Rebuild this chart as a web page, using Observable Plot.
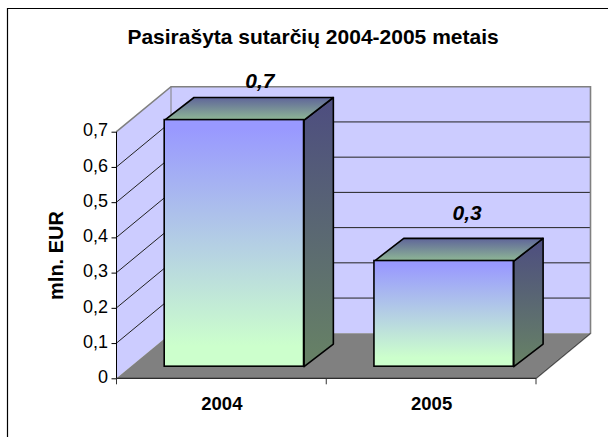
<!DOCTYPE html>
<html lang="lt">
<head>
<meta charset="utf-8">
<script src="https://cdn.jsdelivr.net/npm/d3@7"></script>
<script src="https://cdn.jsdelivr.net/npm/@observablehq/plot@0.6"></script>
<style>
html,body{margin:0;padding:0;background:#fff}
svg{display:block}
[aria-label="y-axis label"]{font-weight:bold;font-size:20px}
[aria-label="x-axis tick label"]{font-weight:bold;font-size:18.5px}
</style>
</head>
<body>
<div id="chart"></div>
<script>
const years = ["2004", "2005"];
const values = [0.7, 0.3];
const yTicks = [0, 0.1, 0.2, 0.3, 0.4, 0.5, 0.6, 0.7];
const valueLabels = ["0,7", "0,3"];
const titleText = "Pasirašyta sutarčių 2004-2005 metais";
const yLabel = "mln. EUR";

const rows = years.map((year, i) => ({year, value: values[i], label: valueLabels[i]}));
const comma = d => String(d).replace(".", ",");

// depth of the 3-D box (floor/wall offset) and of the bars
const WALL = {dx: 54.5, dy: 45};
const FRONT = {dx: 13, dy: 11.6};
const BAR = {dx: 29.3, dy: 22.6};
const INSET = 35.2;

const path = d3.line();
function el(tag, attrs, parent) {
  const n = document.createElementNS("http://www.w3.org/2000/svg", tag);
  for (const k in attrs) n.setAttribute(k, attrs[k]);
  if (parent) parent.appendChild(n);
  return n;
}
function gradient(defs, id, stops) {
  const g = el("linearGradient", {id, x1: 0, y1: 0, x2: 0, y2: 1}, defs);
  stops.forEach(([o, c]) => el("stop", {offset: o, "stop-color": c}, g));
}

const defsMark = () => {
  const d = el("defs", {});
  gradient(d, "front", [[0.04, "#9999ff"], [0.92, "#ccffcc"]]);
  gradient(d, "side", [[0, "#4d4d80"], [0.95, "#668066"]]);
  gradient(d, "top", [[0, "#5f6599"], [1, "#8fb895"]]);
  return d;
};

const frameMark = (i, s, v, dims) => {
  const g = el("g", {"aria-label": "chart frame"});
  el("path", {d: `M7.5 ${dims.height}V8.5H${dims.width}`, fill: "none", stroke: "#000", "stroke-width": 1.2}, g);
  return g;
};

const wallsMark = (i, {x, y}) => {
  const g = el("g", {"aria-label": "walls"});
  const x0 = x(years[0]), x1 = 2 * x(years[1]) - x(years[0]);
  const y0 = y(0), yT = y(yTicks[yTicks.length - 1]);
  const {dx, dy} = WALL;
  el("path", {d: path([[x0, y0], [x0 + dx, y0 - dy], [x0 + dx, yT - dy], [x0, yT]]) + "Z", fill: "#ccccff"}, g);
  el("rect", {x: x0 + dx, y: yT - dy, width: x1 - x0, height: y0 - yT, fill: "#ccccff"}, g);
  el("path", {d: path([[x0, y0], [x1, y0], [x1 + dx, y0 - dy], [x0 + dx, y0 - dy]]) + "Z", fill: "#808080"}, g);
  for (const t of yTicks.slice(1, -1)) {
    el("path", {d: path([[x0, y(t)], [x0 + dx, y(t) - dy], [x1 + dx, y(t) - dy]]), fill: "none", stroke: "#222", "stroke-width": 1}, g);
  }
  el("path", {d: path([[x0, yT], [x0 + dx, yT - dy], [x1 + dx, yT - dy], [x1 + dx, y0 - dy], [x1, y0]]), fill: "none", stroke: "#808080", "stroke-width": 1.6}, g);
  el("path", {d: path([[x0 + dx, yT - dy], [x0 + dx, y0 - dy]]), fill: "none", stroke: "#808080", "stroke-width": 1}, g);
  el("path", {d: path([[x1, y0], [x1 + dx, y0 - dy]]), fill: "none", stroke: "#444", "stroke-width": 1}, g);
  el("path", {d: path([[x0, yT], [x0, y0], [x1, y0]]), fill: "none", stroke: "#000", "stroke-width": 1}, g);
  for (const t of [x0, x(years[1]), x1]) {
    el("path", {d: path([[t, y0], [t, y0 + 6]]), stroke: "#333", "stroke-width": 1}, g);
  }
  return g;
};

const depthMark = (i, {x, y}) => {
  const g = el("g", {"aria-label": "bar depth"});
  const step = x(years[1]) - x(years[0]);
  rows.forEach(r => {
    const l = x(r.year) + INSET + FRONT.dx, w = step - 2 * INSET;
    const re = l + w, t = y(r.value) - FRONT.dy, b = y(0) - FRONT.dy;
    const s = {stroke: "#000", "stroke-width": 1.6, "stroke-linejoin": "round"};
    el("path", {d: path([[re, t], [re + BAR.dx, t - BAR.dy], [re + BAR.dx, b - BAR.dy], [re, b]]) + "Z", fill: "url(#side)", ...s}, g);
    el("path", {d: path([[l, t], [l + BAR.dx, t - BAR.dy], [re + BAR.dx, t - BAR.dy], [re, t]]) + "Z", fill: "url(#top)", ...s}, g);
  });
  return g;
};

const plot = Plot.plot({
  width: 608,
  height: 437,
  marginLeft: 116.5,
  marginRight: 72,
  marginTop: 131.7,
  marginBottom: 58.7,
  style: {fontFamily: "'Liberation Sans', Arial, sans-serif", fontSize: "18px", background: "#fff", color: "#000", overflow: "visible"},
  x: {domain: years, padding: 0, round: false, label: null},
  y: {domain: [0, 0.7], label: null},
  marks: [
    defsMark,
    frameMark,
    wallsMark,
    depthMark,
    Plot.barY(rows, {
      x: "year", y: "value",
      insetLeft: INSET, insetRight: INSET,
      dx: FRONT.dx - 0.5, dy: -FRONT.dy - 0.5,
      fill: "url(#front)", stroke: "#000", strokeWidth: 1.6
    }),
    Plot.axisY({ticks: yTicks, tickSize: 5, fill: "none", label: null}),
    Plot.axisY({ticks: yTicks, tickFormat: comma, tickSize: 0, tickPadding: 9, dy: -1.5, label: yLabel, labelAnchor: "center", labelArrow: false, labelOffset: 68}),
    Plot.axisX({tickSize: 0, tickPadding: 18, label: null}),
    Plot.text(rows.slice(0, 1), {x: "year", y: "value", text: "label", dx: 38, dy: -50.5, fontWeight: "bold", fontStyle: "italic", fontSize: 21}),
    Plot.text(rows.slice(1), {x: "year", y: "value", text: "label", dx: 35.5, dy: -59.5, fontWeight: "bold", fontStyle: "italic", fontSize: 21}),
    Plot.text([titleText], {frameAnchor: "top", dx: -13.7, dy: -103, fontWeight: "bold", fontSize: 21})
  ]
});
document.getElementById("chart").appendChild(plot);
</script>
</body>
</html>
